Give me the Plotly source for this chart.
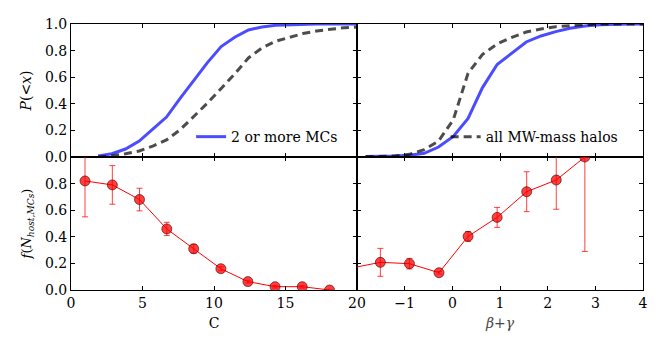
import plotly.graph_objects as go

# --- data ------------------------------------------------------------------
# upper left: cumulative distributions of concentration C
c_grid = [1.9, 2.86, 3.81, 4.77, 5.72, 6.68, 7.63, 8.59, 9.54, 10.5,
          11.45, 12.41, 13.36, 14.31, 15.27, 16.22, 17.18, 18.13, 19.09, 20.04]
c_cdf_mcs = [0.008, 0.025, 0.06, 0.12, 0.21, 0.30, 0.44, 0.58, 0.71, 0.83,
             0.90, 0.955, 0.978, 0.99, 0.995, 1.0, 1.0, 1.0, 1.0, 1.0]
c_cdf_all = [0.0, 0.008, 0.025, 0.045, 0.082, 0.128, 0.205, 0.305, 0.405, 0.515,
             0.625, 0.745, 0.82, 0.87, 0.902, 0.928, 0.948, 0.962, 0.972, 0.978]

# upper right: cumulative distributions of beta+gamma
bg_grid = [-1.82, -1.51, -1.21, -0.90, -0.59, -0.29, 0.02, 0.33, 0.63, 0.94,
           1.25, 1.55, 1.86, 2.17, 2.47, 2.78, 3.09, 3.39, 3.70, 4.01]
bg_cdf_mcs = [0.003, 0.004, 0.007, 0.013, 0.028, 0.075, 0.155, 0.29, 0.52, 0.695,
              0.78, 0.865, 0.91, 0.943, 0.968, 0.985, 0.995, 1.0, 1.0, 1.0]
bg_cdf_all = [0.002, 0.004, 0.008, 0.02, 0.055, 0.12, 0.28, 0.63, 0.77, 0.85,
              0.90, 0.94, 0.963, 0.98, 0.99, 0.995, 1.0, 1.0, 1.0, 1.0]

# lower left: fraction of hosts with MCs vs C
c_bins = [0.98, 2.89, 4.79, 6.70, 8.58, 10.48, 12.37, 14.27, 16.17, 18.08]
c_frac = [0.82, 0.79, 0.68, 0.459, 0.31, 0.16, 0.063, 0.025, 0.025, 0.0]
c_err = [0.27, 0.145, 0.085, 0.05, 0.033, 0.015, 0.01, 0.01, 0.01, 0.0]

# lower right: fraction of hosts with MCs vs beta+gamma
bg_bins = [-2.12, -1.51, -0.90, -0.28, 0.33, 0.94, 1.56, 2.18, 2.78]
bg_frac = [0.165, 0.208, 0.198, 0.13, 0.403, 0.546, 0.739, 0.827, 1.0]
bg_err = [0.05, 0.105, 0.04, 0.01, 0.037, 0.075, 0.15, 0.22, 0.71]

FONT = "DejaVu Serif"
BLUE = "rgba(0,0,255,0.7)"
GRAY = "rgba(0,0,0,0.7)"
RED = "rgba(255,0,0,0.75)"

fig = go.Figure()

fig.add_trace(go.Scatter(x=c_grid, y=c_cdf_mcs, mode="lines", name="2 or more MCs",
                         line=dict(color=BLUE, width=3), xaxis="x", yaxis="y",
                         legend="legend"))
fig.add_trace(go.Scatter(x=c_grid, y=c_cdf_all, mode="lines", showlegend=False,
                         line=dict(color=GRAY, width=3, dash="8px,5px"),
                         xaxis="x", yaxis="y"))
fig.add_trace(go.Scatter(x=bg_grid, y=bg_cdf_mcs, mode="lines", showlegend=False,
                         line=dict(color=BLUE, width=3), xaxis="x2", yaxis="y2"))
fig.add_trace(go.Scatter(x=bg_grid, y=bg_cdf_all, mode="lines", name="all MW-mass halos",
                         line=dict(color=GRAY, width=3, dash="8px,5px"),
                         xaxis="x2", yaxis="y2", legend="legend2"))

for xs, ys, es, xa, ya in [(c_bins, c_frac, c_err, "x3", "y3"),
                           (bg_bins, bg_frac, bg_err, "x4", "y4")]:
    fig.add_trace(go.Scatter(
        x=xs, y=ys, mode="lines+markers", showlegend=False,
        line=dict(color="red", width=1),
        marker=dict(size=10, color=RED, line=dict(color="rgba(60,0,0,0.6)", width=1)),
        error_y=dict(type="data", array=es, color=RED, thickness=1, width=3),
        xaxis=xa, yaxis=ya,
    ))

tickfont = dict(family=FONT, size=14, color="black")
common = dict(showline=True, linecolor="black", linewidth=1, mirror="allticks",
              ticks="inside", ticklen=4, tickcolor="black", showgrid=False,
              zeroline=False, tickfont=tickfont, automargin=False)

yticks = [0, 0.2, 0.4, 0.6, 0.8, 1.0]
ylabels = ["0.0", "0.2", "0.4", "0.6", "0.8", "1.0"]
cticks = [0, 5, 10, 15, 20]
bgticks = [-2, -1, 0, 1, 2, 3, 4]

# the page body adds an 8px margin, so the figure is sized to fit inside it
fig.update_layout(
    width=656, height=342,
    margin=dict(l=63, r=21, t=16, b=60),
    plot_bgcolor="white", paper_bgcolor="white",
    font=dict(family=FONT, size=14, color="black"),
    xaxis=dict(domain=[0, 0.5], anchor="y", range=[0, 20], tickvals=cticks,
               showticklabels=False, **common),
    yaxis=dict(domain=[0.5, 1], anchor="x", range=[0, 1], tickvals=yticks,
               ticktext=ylabels,
               title=dict(text="<i>P</i>(&lt;<i>x</i>)", font=dict(size=14), standoff=10),
               **common),
    xaxis2=dict(domain=[0.5, 1], anchor="y2", range=[-2, 4], tickvals=bgticks,
                showticklabels=False, **common),
    yaxis2=dict(domain=[0.5, 1], anchor="x2", range=[0, 1], tickvals=yticks,
                showticklabels=False, **common),
    xaxis3=dict(domain=[0, 0.5], anchor="y3", range=[0, 20], tickvals=cticks,
                ticktext=[str(t) for t in cticks],
                title=dict(text="C", font=dict(size=14), standoff=8), **common),
    yaxis3=dict(domain=[0, 0.5], anchor="x3", range=[0, 1], tickvals=yticks[:-1],
                ticktext=ylabels[:-1],
                title=dict(text="<i>f</i>(<i>N</i><sub><i>host,MCs</i></sub>)",
                           font=dict(size=13), standoff=10),
                **common),
    xaxis4=dict(domain=[0.5, 1], anchor="y4", range=[-2, 4], tickvals=bgticks[1:],
                ticktext=["\u22121", "0", "1", "2", "3", "4"],
                title=dict(text="<i>\u03b2</i>+<i>\u03b3</i>",
                           font=dict(size=14, color="#444"), standoff=8),
                **common),
    yaxis4=dict(domain=[0, 0.5], anchor="x4", range=[0, 1], tickvals=yticks,
                showticklabels=False, **common),
    legend=dict(x=0.21, y=0.575, xanchor="left", yanchor="middle",
                bgcolor="rgba(0,0,0,0)", font=dict(size=14)),
    legend2=dict(x=0.655, y=0.575, xanchor="left", yanchor="middle",
                 bgcolor="rgba(0,0,0,0)", font=dict(size=14)),
)

fig.write_html("out.html")
